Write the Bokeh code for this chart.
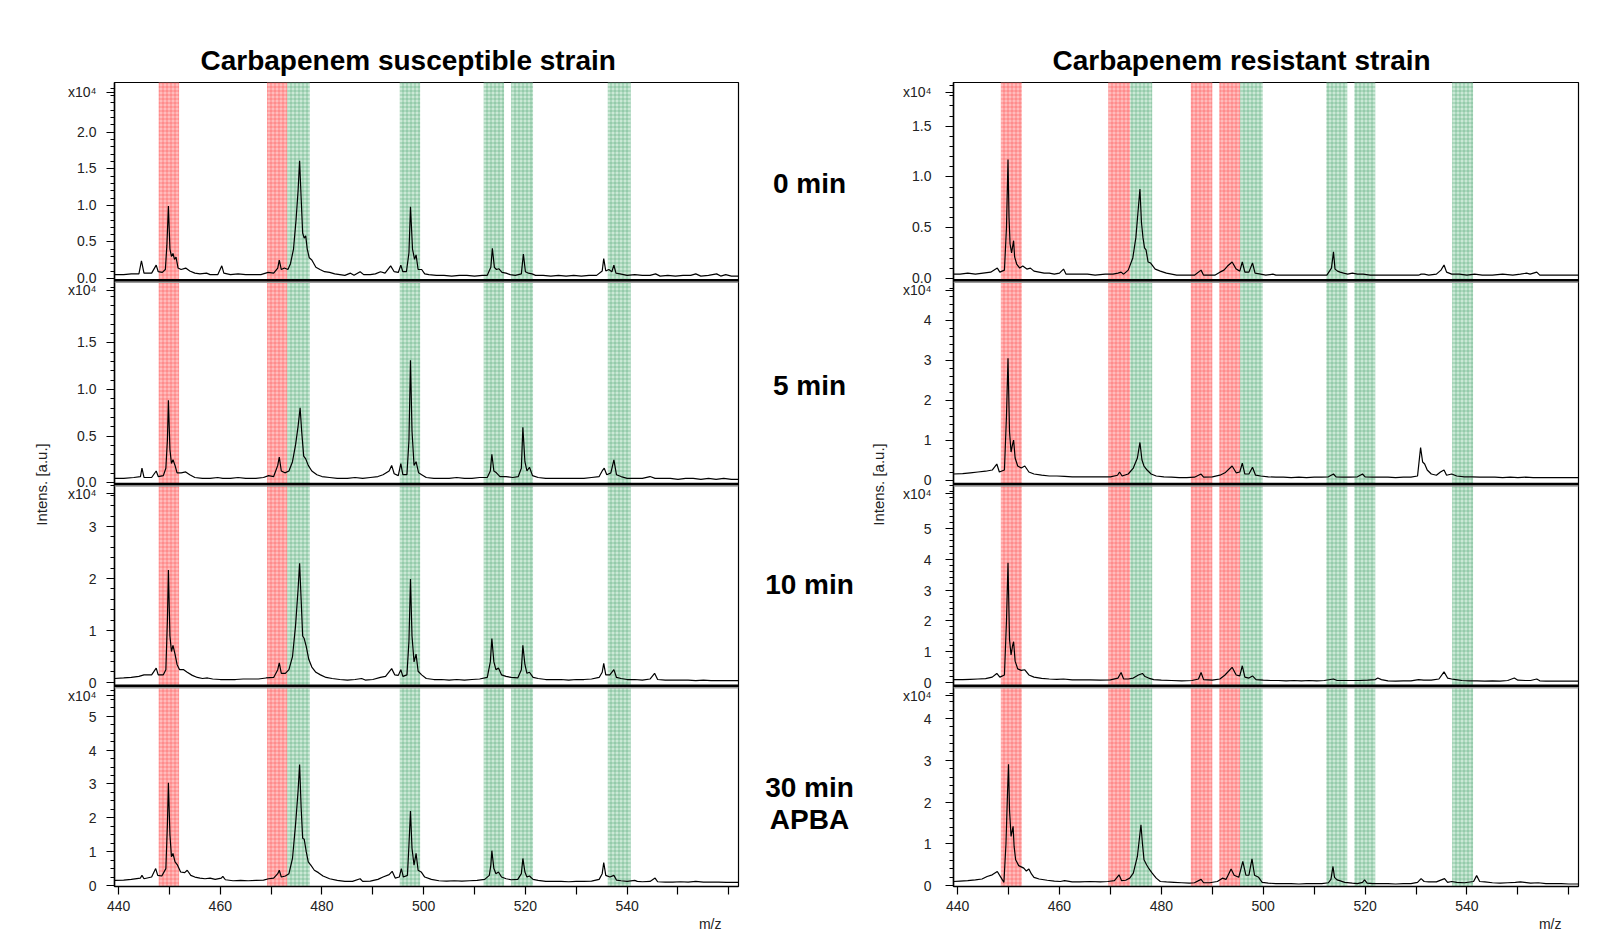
from bokeh.plotting import figure
from bokeh.models import Range1d, FixedTicker, Span, ColumnDataSource, Title
from bokeh.core.properties import value
from bokeh.layouts import row
from bokeh.embed import file_html
from bokeh.resources import INLINE

FONT = "Liberation Sans"

# ---------------- data (m/z, intensity x10^4) ----------------
time_labels = ["0 min", "5 min", "10 min", "30 min", "APBA"]
x_major = [440, 460, 480, 500, 520, 540]
x_minor = [450, 470, 490, 510, 530, 550, 560]

# highlighted m/z windows
sus_red = [(447.9, 451.9), (469.2, 473.2)]
sus_green = [(473.2, 477.6), (495.3, 499.3), (511.8, 515.8), (517.2, 521.5), (536.2, 540.7)]
res_red = [(448.5, 452.6), (469.6, 473.9), (485.8, 490.0), (491.4, 495.5)]
res_green = [(473.9, 478.2), (495.5, 499.9), (512.4, 516.5), (517.9, 522.0), (537.1, 541.2)]

# y limits per panel (x10^4) and axis ticks
sus_ylim = [(-0.027, 2.68), (-0.02, 2.17), (-0.06, 3.83), (-0.03, 5.91)]
sus_major = [[0, 0.5, 1.0, 1.5, 2.0], [0, 0.5, 1.0, 1.5], [0, 1, 2, 3], [0, 1, 2, 3, 4, 5]]
sus_minor_step = [0.1, 0.1, 0.2, 0.25]
sus_decimal = [True, True, False, False]
res_ylim = [(-0.02, 1.93), (-0.1, 5.0), (-0.1, 6.46), (-0.02, 4.79)]
res_major = [[0, 0.5, 1.0, 1.5], [0, 1, 2, 3, 4], [0, 1, 2, 3, 4, 5], [0, 1, 2, 3, 4]]
res_minor_step = [0.1, 0.2, 0.2, 0.2]
res_decimal = [True, False, False, False]
scale_label = "x10\u2074"

sus_0min = [(439.2,0.05),(441,0.05),(442.5,0.06),(444,0.06),(444.5,0.24),(445,0.07),(446.5,0.07),(447.4,0.18),(447.8,0.09),
 (448.6,0.08),(449.2,0.12),(449.5,0.45),(449.8,0.99),(450.1,0.40),(450.4,0.30),(450.7,0.34),(451.0,0.26),(451.3,0.29),
 (451.7,0.14),(452.3,0.12),(453.2,0.14),(454,0.10),(455,0.07),(456,0.06),(457.3,0.07),(458,0.05),(459.5,0.05),(460.3,0.17),
 (460.7,0.07),(462,0.05),(463.5,0.06),(465,0.05),(466.5,0.05),(468,0.05),(469.4,0.08),(470.5,0.07),(471.3,0.14),(471.6,0.25),
 (472.0,0.12),(472.6,0.14),(473.3,0.12),(473.8,0.20),(474.4,0.40),(474.9,0.80),(475.3,1.20),(475.6,1.61),(475.9,1.10),
 (476.2,0.62),(476.5,0.55),(476.8,0.58),(477.1,0.40),(477.5,0.28),(478,0.25),(478.8,0.15),(479.6,0.12),(480.5,0.09),
 (481.5,0.08),(482.5,0.06),(483.5,0.05),(484.5,0.04),(485.6,0.07),(486.3,0.04),(487.5,0.09),(488.2,0.05),(489.5,0.05),
 (490.5,0.06),(491.5,0.09),(492.4,0.07),(493.5,0.17),(494.2,0.09),(495.0,0.08),(495.5,0.18),(495.9,0.09),(496.6,0.09),
 (497.1,0.35),(497.4,0.98),(497.8,0.40),(498.2,0.26),(498.5,0.32),(498.9,0.12),(499.6,0.12),(500.2,0.06),(501,0.05),
 (502.5,0.04),(504,0.04),(505.5,0.03),(507,0.04),(508.5,0.04),(510,0.03),(511.5,0.04),(512.5,0.04),(513.2,0.15),
 (513.5,0.41),(513.9,0.15),(514.3,0.12),(514.8,0.13),(515.4,0.08),(516.2,0.07),(517,0.05),(518,0.04),(519.2,0.06),
 (519.6,0.33),(520,0.09),(520.6,0.07),(521.3,0.06),(522,0.04),(523.5,0.04),(525,0.03),(526.5,0.04),(528,0.03),(529.5,0.04),
 (531,0.03),(532.5,0.04),(534,0.04),(535.1,0.10),(535.4,0.27),(535.8,0.10),(536.4,0.12),(537.0,0.09),(537.4,0.18),
 (537.8,0.07),(538.6,0.06),(540,0.04),(541.5,0.05),(543,0.04),(544.5,0.04),(545.6,0.06),(546.5,0.03),(548,0.04),
 (549.5,0.03),(551,0.04),(552.5,0.04),(553.5,0.06),(554.5,0.03),(556,0.04),(557.6,0.06),(558.4,0.03),(559.4,0.05),
 (560.5,0.03),(561.9,0.03)]

sus_5min = [(439.2,0.04),(441,0.04),(443,0.05),(444.3,0.06),(444.6,0.15),(445,0.05),(446.5,0.05),(447.4,0.12),(447.8,0.06),
 (448.8,0.07),(449.3,0.15),(449.6,0.45),(449.8,0.88),(450.1,0.35),(450.4,0.20),(450.7,0.24),(451.1,0.18),(451.5,0.10),
 (452.3,0.10),(453.2,0.11),(454,0.08),(455,0.05),(456.5,0.04),(458,0.04),(459.5,0.05),(460.5,0.04),(462,0.04),(463.5,0.05),
 (465,0.04),(467,0.04),(468.5,0.05),(469.5,0.07),(470.5,0.06),(471.3,0.18),(471.6,0.27),(472.0,0.12),(472.7,0.10),
 (473.5,0.12),(474.2,0.22),(474.8,0.40),(475.3,0.60),(475.7,0.80),(476.0,0.55),(476.4,0.28),(476.8,0.25),(477.3,0.18),
 (478,0.12),(479,0.08),(480,0.06),(481.5,0.05),(483,0.04),(485,0.04),(486.5,0.05),(488,0.04),(489.5,0.05),(491,0.06),
 (492,0.08),(493.2,0.12),(493.7,0.18),(494.2,0.09),(495,0.07),(495.5,0.20),(495.9,0.08),(496.7,0.08),(497.1,0.45),
 (497.4,1.31),(497.7,0.55),(498.1,0.18),(498.5,0.22),(499,0.10),(499.6,0.08),(500.5,0.05),(502,0.04),(503.5,0.04),
 (505,0.04),(506.5,0.05),(508,0.04),(509.5,0.04),(511,0.05),(512.5,0.05),(513.1,0.12),(513.4,0.30),(513.8,0.12),
 (514.3,0.10),(515,0.06),(516.2,0.06),(517.5,0.05),(518.6,0.06),(519.2,0.15),(519.5,0.59),(519.9,0.22),(520.3,0.12),
 (520.8,0.16),(521.4,0.07),(522.5,0.05),(524,0.04),(525.5,0.04),(527,0.04),(528.5,0.04),(530,0.04),(531.5,0.04),
 (533,0.05),(534.5,0.06),(535.2,0.13),(535.5,0.15),(536,0.08),(536.8,0.10),(537.4,0.24),(537.9,0.08),(538.8,0.06),
 (540,0.04),(541.5,0.04),(543,0.04),(544.5,0.06),(545.5,0.04),(547,0.04),(548.5,0.04),(550,0.03),(551.5,0.04),(553,0.04),
 (554.5,0.03),(556,0.04),(557.5,0.03),(559,0.04),(560.5,0.03),(561.9,0.03)]

sus_10min = [(439.2,0.08),(441,0.09),(442.5,0.10),(444,0.12),(445,0.15),(446.5,0.15),(447.4,0.28),(447.8,0.15),(448.8,0.15),
 (449.3,0.25),(449.6,1.20),(449.8,2.17),(450.1,0.90),(450.4,0.60),(450.7,0.72),(451.1,0.55),(451.5,0.35),(452,0.25),
 (452.8,0.25),(453.5,0.20),(454.5,0.14),(455.5,0.10),(456.5,0.08),(457.5,0.09),(458.5,0.07),(460,0.06),(461.5,0.06),
 (463,0.06),(464.5,0.07),(466,0.07),(467.5,0.07),(469,0.09),(470.5,0.10),(471.3,0.25),(471.6,0.38),(472.0,0.18),
 (472.8,0.18),(473.5,0.25),(474.2,0.50),(474.8,1.10),(475.3,1.80),(475.6,2.30),(475.9,1.60),(476.2,0.90),(476.5,0.85),
 (476.9,0.70),(477.4,0.45),(478,0.30),(478.8,0.20),(479.7,0.15),(480.8,0.10),(482,0.08),(483.5,0.06),(485,0.05),
 (486.5,0.06),(487.8,0.08),(488.5,0.05),(490,0.06),(491.5,0.10),(492.5,0.12),(493.7,0.27),(494.3,0.15),(495.0,0.14),
 (495.5,0.25),(495.9,0.12),(496.7,0.15),(497.1,0.80),(497.4,2.00),(497.7,0.90),(498.1,0.40),(498.5,0.55),(498.9,0.22),
 (499.6,0.15),(500.5,0.08),(502,0.06),(503.5,0.06),(505,0.05),(506.5,0.06),(508,0.05),(509.5,0.06),(511,0.07),
 (512.5,0.10),(513.1,0.40),(513.4,0.85),(513.8,0.40),(514.2,0.25),(514.7,0.28),(515.3,0.15),(516.2,0.12),(517.2,0.10),
 (518.5,0.09),(519.2,0.25),(519.5,0.72),(519.9,0.35),(520.3,0.18),(520.8,0.20),(521.5,0.10),(522.5,0.08),(524,0.06),
 (525.5,0.06),(527,0.06),(528.5,0.05),(530,0.06),(531.5,0.06),(533,0.07),(534.5,0.10),(535.1,0.20),(535.4,0.37),
 (535.8,0.15),(536.6,0.15),(537.4,0.25),(537.9,0.10),(538.8,0.08),(540,0.06),(541.5,0.06),(543,0.05),(544.5,0.07),
 (545.4,0.18),(546,0.06),(547.5,0.05),(549,0.05),(550.5,0.05),(552,0.05),(553.5,0.04),(555,0.05),(556.5,0.04),
 (558,0.04),(559.5,0.04),(561.9,0.04)]

sus_30min_apba = [(439.2,0.15),(441,0.16),(442.5,0.18),(444.3,0.22),(444.6,0.30),(445,0.20),(446.5,0.25),(447.3,0.50),
 (447.7,0.30),(448.5,0.28),(449.3,0.50),(449.6,1.80),(449.8,3.04),(450.1,1.50),(450.4,0.85),(450.7,0.95),(451.1,0.70),
 (451.6,0.60),(452.2,0.40),(453,0.38),(453.5,0.45),(454.2,0.30),(455,0.25),(456,0.22),(457,0.20),(458,0.22),(459,0.18),
 (460.2,0.22),(460.5,0.27),(461,0.17),(462.5,0.14),(464,0.15),(465.5,0.14),(467,0.15),(468.5,0.16),(469.5,0.20),
 (470.5,0.22),(471.3,0.35),(471.6,0.45),(472,0.25),(472.8,0.28),(473.5,0.35),(474.2,0.80),(474.8,1.80),(475.3,2.80),
 (475.6,3.58),(475.9,2.30),(476.2,1.40),(476.5,1.37),(476.9,1.00),(477.3,0.70),(477.8,0.60),(478.5,0.45),(479.3,0.38),
 (480.2,0.28),(481.5,0.20),(483,0.15),(484.5,0.12),(486,0.12),(487.5,0.20),(488,0.12),(489.5,0.13),(491,0.18),(492,0.25),
 (493.2,0.32),(493.8,0.42),(494.4,0.22),(495.2,0.25),(495.6,0.50),(496.0,0.25),(496.8,0.30),(497.1,1.20),(497.4,2.20),
 (497.7,1.10),(498.1,0.60),(498.5,0.95),(498.9,0.45),(499.5,0.40),(500.2,0.25),(501.5,0.18),(503,0.14),(504.5,0.13),
 (506,0.14),(507.5,0.13),(509,0.14),(510.5,0.15),(512,0.18),(512.9,0.30),(513.2,0.60),(513.4,1.03),(513.8,0.50),
 (514.2,0.35),(514.7,0.40),(515.3,0.25),(516.2,0.20),(517.2,0.17),(518.5,0.18),(519.2,0.35),(519.5,0.80),(519.9,0.40),
 (520.3,0.25),(520.8,0.28),(521.5,0.18),(522.5,0.15),(524,0.12),(525.5,0.12),(527,0.12),(528.5,0.11),(530,0.12),
 (531.5,0.12),(533,0.13),(534.5,0.18),(535.1,0.35),(535.4,0.68),(535.8,0.30),(536.6,0.25),(537.4,0.30),(537.9,0.16),
 (538.8,0.14),(540,0.12),(541.5,0.15),(542,0.12),(543,0.11),(544.5,0.12),(545.5,0.22),(546,0.11),(547.5,0.10),(549,0.10),
 (550.5,0.11),(552,0.10),(553.5,0.12),(555,0.10),(556.5,0.10),(558,0.10),(559.5,0.09),(561.9,0.09)]

res_0min = [(439.2,0.04),(440.5,0.04),(442,0.05),(443.5,0.04),(445,0.05),(446.5,0.06),(447.8,0.10),(448.3,0.06),(449.2,0.08),
 (449.6,0.50),(449.9,1.17),(450.1,0.60),(450.3,0.34),(450.6,0.25),(451.0,0.37),(451.2,0.21),(451.6,0.14),(452.2,0.10),
 (452.8,0.12),(453.6,0.09),(454.3,0.10),(455,0.07),(456,0.06),(457,0.05),(458,0.05),(459,0.04),(460,0.05),(460.8,0.09),
 (461.3,0.04),(462.5,0.04),(464,0.04),(465.5,0.04),(467,0.03),(469,0.04),(470.5,0.04),(471.5,0.05),(472.1,0.06),
 (472.6,0.04),(473.5,0.08),(474.4,0.20),(475.0,0.40),(475.5,0.70),(475.8,0.88),(476.1,0.55),(476.4,0.40),(476.7,0.30),
 (477.0,0.28),(477.4,0.16),(477.9,0.15),(478.8,0.09),(479.8,0.07),(481,0.05),(482,0.04),(483,0.03),(484,0.03),
 (485.5,0.03),(486.5,0.03),(487.8,0.08),(488.3,0.03),(489.5,0.03),(490.5,0.03),(491.5,0.06),(492.3,0.08),(493.0,0.12),
 (493.9,0.16),(494.7,0.09),(495.4,0.07),(495.9,0.16),(496.4,0.06),(497.2,0.06),(497.9,0.15),(498.4,0.05),(499.5,0.04),
 (500.5,0.03),(501.9,0.04),(502.5,0.03),(504,0.03),(505.5,0.03),(507,0.03),(508.5,0.03),(510,0.03),(511.5,0.03),
 (512.5,0.03),(513.4,0.10),(513.8,0.26),(514.1,0.09),(514.6,0.07),(515.1,0.06),(515.8,0.05),(516.6,0.04),(517.5,0.05),
 (518.5,0.04),(519.6,0.04),(521,0.03),(522.5,0.03),(524,0.03),(525.5,0.03),(527,0.03),(528.5,0.03),(530.5,0.03),
 (531.0,0.04),(531.6,0.04),(532.5,0.03),(534,0.04),(534.9,0.08),(535.5,0.13),(536,0.06),(537,0.04),(538.5,0.04),
 (540,0.03),(541.5,0.04),(543,0.03),(545,0.03),(547,0.04),(549,0.03),(550.5,0.04),(551.7,0.05),(552.4,0.04),(553.7,0.06),
 (554.3,0.03),(556,0.03),(558,0.03),(560,0.03),(561.9,0.03)]

res_5min = [(439.2,0.15),(441,0.16),(442.5,0.18),(444,0.20),(445.5,0.22),(446.8,0.25),(447.7,0.40),(448.2,0.20),(449.2,0.25),
 (449.6,1.60),(449.9,3.05),(450.2,1.20),(450.5,0.70),(450.8,0.90),(451.0,1.00),(451.3,0.55),(451.8,0.35),(452.5,0.30),
 (453.2,0.35),(454,0.20),(455,0.15),(456.5,0.12),(458,0.10),(459.5,0.10),(461,0.09),(462.5,0.08),(464,0.08),(466,0.08),
 (468,0.08),(470,0.08),(471.4,0.12),(471.8,0.20),(472.3,0.10),(473.5,0.15),(474.5,0.30),(475.3,0.55),(475.8,0.94),
 (476.2,0.50),(476.6,0.35),(477.2,0.25),(478,0.15),(479,0.10),(480.5,0.08),(482,0.07),(483.5,0.06),(485,0.06),(486.5,0.07),
 (487.8,0.15),(488.3,0.07),(490,0.08),(491.5,0.12),(492.5,0.18),(493.9,0.35),(494.7,0.18),(495.4,0.20),(495.9,0.42),
 (496.4,0.15),(497.2,0.15),(497.9,0.32),(498.5,0.12),(499.5,0.10),(501,0.08),(502.5,0.07),(504,0.07),(505.5,0.06),
 (507,0.07),(508.5,0.06),(510,0.07),(511.5,0.07),(512.8,0.08),(513.8,0.15),(514.3,0.08),(515.5,0.07),(517,0.07),
 (518.5,0.08),(519.5,0.15),(520,0.08),(521.5,0.07),(523,0.07),(524.5,0.07),(526,0.06),(527.5,0.07),(529,0.07),
 (530.3,0.10),(530.9,0.81),(531.3,0.45),(531.7,0.40),(532.2,0.25),(533,0.15),(534,0.12),(534.8,0.20),(535.5,0.25),
 (536,0.12),(537,0.15),(538,0.10),(539.5,0.08),(541,0.08),(542.5,0.07),(544,0.07),(545.5,0.07),(547,0.06),(548.5,0.07),
 (550,0.06),(551.5,0.07),(553,0.06),(554.5,0.06),(556,0.06),(557.5,0.06),(559,0.06),(560.5,0.06),(561.9,0.06)]

res_10min = [(439.2,0.10),(441,0.10),(442.5,0.11),(444,0.12),(445.5,0.13),(446.8,0.18),(447.7,0.30),(448.3,0.18),(449.2,0.25),
 (449.6,2.00),(449.9,3.90),(450.2,1.40),(450.5,0.90),(450.8,1.20),(451.0,1.33),(451.3,0.70),(451.8,0.45),(452.5,0.40),
 (453.2,0.42),(454,0.25),(455,0.18),(456.5,0.14),(458,0.12),(459.5,0.11),(460.8,0.12),(462.5,0.09),(464,0.09),(466,0.09),
 (468,0.08),(470,0.09),(471.5,0.15),(472.1,0.33),(472.6,0.12),(473.5,0.12),(474.5,0.15),(475.5,0.25),(476.3,0.30),
 (476.8,0.20),(477.5,0.15),(478.5,0.10),(480,0.08),(482,0.07),(484,0.06),(486,0.07),(487.3,0.12),(487.8,0.33),(488.3,0.10),
 (490,0.08),(491.5,0.12),(492.5,0.25),(493.9,0.50),(494.7,0.25),(495.4,0.22),(495.9,0.55),(496.4,0.18),(497.2,0.15),
 (497.9,0.22),(498.6,0.10),(500,0.08),(501.5,0.07),(503,0.07),(504.5,0.06),(506,0.07),(507.5,0.06),(509,0.07),(510.5,0.06),
 (512,0.07),(513.8,0.12),(514.5,0.07),(516,0.07),(517.5,0.07),(519,0.07),(520.5,0.08),(522,0.10),(522.5,0.15),(523.2,0.10),
 (524.5,0.06),(526,0.05),(527.5,0.06),(529,0.06),(530.5,0.10),(531.5,0.08),(533,0.08),(534.5,0.12),(535.5,0.35),
 (536.2,0.15),(537,0.12),(537.8,0.10),(539,0.07),(540.5,0.06),(542,0.06),(543.5,0.05),(545,0.06),(546.5,0.05),(548,0.07),
 (549.3,0.15),(550,0.08),(551.5,0.07),(552.5,0.07),(553.7,0.12),(554.3,0.06),(555.5,0.05),(557,0.05),(558.5,0.05),
 (560,0.05),(561.9,0.05)]

res_30min_apba = [(439.2,0.10),(440.5,0.11),(442,0.12),(443.5,0.14),(444.8,0.16),(445.8,0.22),(446.8,0.26),(447.8,0.34),
 (448.5,0.20),(449.1,0.08),(449.5,1.00),(449.8,2.20),(450.0,2.91),(450.2,1.80),(450.5,1.18),(450.9,1.42),(451.1,0.94),
 (451.4,0.62),(452.0,0.48),(452.5,0.45),(453.0,0.42),(453.5,0.35),(454.0,0.40),(454.5,0.28),(455.0,0.20),(456,0.16),
 (457.6,0.13),(459,0.11),(460.2,0.10),(461,0.12),(462.5,0.09),(464,0.09),(466,0.10),(468,0.09),(469.5,0.10),(470.8,0.12),
 (471.7,0.26),(472.2,0.12),(473,0.13),(473.8,0.18),(474.5,0.30),(475.3,0.70),(476.0,1.46),(476.3,1.00),(476.6,0.62),
 (477.1,0.50),(477.6,0.40),(478.2,0.30),(479,0.18),(479.8,0.10),(481,0.09),(482.5,0.08),(484,0.07),(485.5,0.06),
 (486.5,0.07),(487.8,0.15),(488.3,0.07),(489.5,0.07),(491,0.10),(492,0.18),(492.7,0.15),(493.7,0.40),(494.3,0.25),
 (495.2,0.20),(496.0,0.58),(496.6,0.25),(497.2,0.25),(497.8,0.64),(498.3,0.25),(499.1,0.20),(499.8,0.08),(501,0.06),
 (502.5,0.05),(504,0.05),(505.5,0.05),(507,0.04),(508.5,0.05),(510,0.05),(511.5,0.05),(512.8,0.07),(513.3,0.15),
 (513.7,0.46),(514.0,0.20),(514.5,0.14),(515,0.12),(516,0.08),(517.5,0.06),(518.5,0.05),(519.5,0.08),(519.9,0.14),
 (520.4,0.06),(521.5,0.05),(523,0.05),(524.5,0.05),(526,0.04),(527.5,0.05),(529,0.05),(530.3,0.08),(531.0,0.17),
 (531.6,0.10),(532.5,0.09),(534,0.09),(535.6,0.17),(536.2,0.08),(537,0.10),(538,0.08),(539.5,0.07),(541.3,0.10),
 (541.9,0.24),(542.5,0.10),(543.5,0.09),(545,0.07),(546.5,0.06),(548,0.07),(549.5,0.08),(550.5,0.09),(551.3,0.08),
 (552.5,0.06),(554,0.07),(555.5,0.05),(557,0.05),(558.5,0.05),(560,0.04),(561.9,0.04)]

sus_spectra = [sus_0min, sus_5min, sus_10min, sus_30min_apba]
res_spectra = [res_0min, res_5min, res_10min, res_30min_apba]

# ---------------- layout constants (pixels) ----------------
MZ_RANGE = (439.2, 561.9)
FIG_H = 931
BORDER_TOP, BORDER_BOTTOM = 82, 44
FRAME_H = FIG_H - BORDER_TOP - BORDER_BOTTOM   # 805
SLICES = [(607, 805), (403, 607), (201, 403), (0, 201)]  # panel slices, px from frame bottom

RED_FILL, RED_HATCH = "#ffbcbc", "#ff4d4d"
GREEN_FILL, GREEN_HATCH = "#cbe8d6", "#4fa874"
TEXT_COL = "#222222"


def axis_ticks(ylims, majors, steps, decimals):
    major_pos, minor_pos, overrides = [], [], {}
    for k in range(4):
        lo, hi = ylims[k]
        b, t = SLICES[k]

        def f(v):
            return b + (v - lo) * (t - b) / (hi - lo)

        for v in majors[k]:
            pos = int(round(f(v)))
            major_pos.append(pos)
            overrides[pos] = f"{v:.1f}" if decimals[k] else f"{int(v)}"
        # exponent marker near the top of each panel
        major_pos.append(t - 10)
        overrides[t - 10] = scale_label
        i = 1
        while True:
            v = round(i * steps[k], 4)
            if v > hi - 1e-9:
                break
            if all(abs(v - m) > 1e-6 for m in majors[k]):
                minor_pos.append(int(round(f(v))))
            i += 1
    return major_pos, minor_pos, overrides


def build(spectra, ylims, majors, steps, decimals, reds, greens, title, title_offset, width,
          border_left, border_right, label_standoff, ylabel_standoff):
    p = figure(width=width, height=FIG_H, x_range=Range1d(*MZ_RANGE), y_range=Range1d(0, FRAME_H),
               output_backend="svg", toolbar_location=None,
               min_border_left=border_left, min_border_right=border_right,
               min_border_top=BORDER_TOP, min_border_bottom=BORDER_BOTTOM)
    p.grid.visible = False
    p.outline_line_color = "black"
    p.outline_line_width = 1.2
    p.background_fill_color = "white"
    p.border_fill_color = "white"

    # highlighted windows, continuous through all panels
    red_src = ColumnDataSource(dict(left=[a for a, _ in reds], right=[b for _, b in reds]))
    green_src = ColumnDataSource(dict(left=[a for a, _ in greens], right=[b for _, b in greens]))
    for src, fc, hc in [(red_src, RED_FILL, RED_HATCH), (green_src, GREEN_FILL, GREEN_HATCH)]:
        p.quad(left="left", right="right", bottom=p.y_range.start, top=p.y_range.end, source=src,
               fill_color=fc, fill_alpha=1.0, line_color=None,
               hatch_pattern="+", hatch_color=hc, hatch_alpha=0.5, hatch_scale=4, hatch_weight=1)

    # spectra, each on its own intensity scale
    for k, spec in enumerate(spectra):
        lo, hi = ylims[k]
        b, t = SLICES[k]
        s = (hi - lo) / (t - b)
        start = lo - b * s
        p.extra_y_ranges[f"p{k}"] = Range1d(start, start + FRAME_H * s)
        src = ColumnDataSource(dict(mz=[m for m, _ in spec], inten=[v for _, v in spec]))
        p.line(x="mz", y="inten", source=src, y_range_name=f"p{k}", line_color="black", line_width=1.2)

    # panel separators
    for b, _ in SLICES[:-1]:
        p.add_layout(Span(location=b - 2, dimension="width", line_color="#9a9a9a", line_width=1.5))
        p.add_layout(Span(location=b, dimension="width", line_color="black", line_width=2.5))

    # y axis (one axis line, per-panel tick values)
    major_pos, minor_pos, overrides = axis_ticks(ylims, majors, steps, decimals)
    yax = p.yaxis[0]
    yax.ticker = FixedTicker(ticks=major_pos, minor_ticks=minor_pos)
    yax.major_label_overrides = overrides
    yax.axis_line_width = 1.5
    yax.major_tick_out, yax.major_tick_in = 8, 0
    yax.minor_tick_out, yax.minor_tick_in = 4, 0
    yax.major_tick_line_width = 1.2
    yax.minor_tick_line_width = 1.2
    yax.major_label_standoff = label_standoff
    yax.major_label_text_font = FONT
    yax.major_label_text_font_size = "14px"
    yax.major_label_text_color = TEXT_COL

    xax = p.xaxis[0]
    xax.ticker = FixedTicker(ticks=x_major, minor_ticks=x_minor)
    xax.axis_line_width = 1.5
    xax.major_tick_out, xax.major_tick_in = 8, 0
    xax.minor_tick_out, xax.minor_tick_in = 8, 0
    xax.major_tick_line_width = 1.2
    xax.minor_tick_line_width = 1.2
    xax.major_label_standoff = 6
    xax.major_label_text_font = FONT
    xax.major_label_text_font_size = "14px"
    xax.major_label_text_color = TEXT_COL

    p.add_layout(Title(text="Intens. [a.u.]", align="center", standoff=ylabel_standoff,
                       text_font=FONT, text_font_size="15px", text_font_style="normal",
                       text_color=TEXT_COL), "left")
    p.add_layout(Title(text="m/z", align="right", offset=17, standoff=0,
                       text_font=FONT, text_font_size="14px", text_font_style="normal",
                       text_color=TEXT_COL), "below")
    p.add_layout(Title(text=title, align="left", offset=title_offset, standoff=13,
                       text_font=FONT, text_font_size="28px", text_font_style="bold",
                       text_color="black"), "above")
    return p


LEFT_W = 740                 # 114 border + 624 frame + 2
RIGHT_BORDER_LEFT = 100
MID_W = 953 - RIGHT_BORDER_LEFT - LEFT_W

left = build(sus_spectra, sus_ylim, sus_major, sus_minor_step, sus_decimal, sus_red, sus_green,
             "Carbapenem susceptible strain", 86, LEFT_W, 114, 2, 10, 29)
right = build(res_spectra, res_ylim, res_major, res_minor_step, res_decimal, res_red, res_green,
              "Carbapenem resistant strain", 99, RIGHT_BORDER_LEFT + 625 + 16, RIGHT_BORDER_LEFT, 16, 14, 26)

# middle strip with the time-point labels (its frame is aligned with the panels' frame)
mid = figure(width=MID_W, height=FIG_H, x_range=Range1d(0, MID_W), y_range=Range1d(0, FRAME_H),
             output_backend="svg", toolbar_location=None, min_border_left=0, min_border_right=0,
             min_border_top=BORDER_TOP, min_border_bottom=BORDER_BOTTOM)
mid.axis.visible = False
mid.grid.visible = False
mid.outline_line_color = None
mid.background_fill_color = "white"
mid.border_fill_color = "white"
mid_src = ColumnDataSource(dict(x=[69, 69, 69, 69, 69], y=[704, 502, 302, 99, 67], t=time_labels))
mid.text(x="x", y="y", text="t", source=mid_src, text_font=value(FONT), text_font_size="28px",
         text_font_style="bold", text_align="center", text_baseline="middle", text_color="black")

page = row(left, mid, right, spacing=0)
open("out.html", "w").write(file_html(page, INLINE))
